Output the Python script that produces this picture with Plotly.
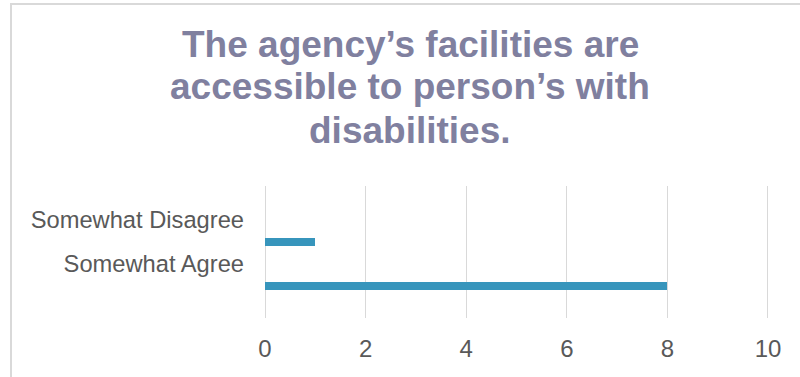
import plotly.graph_objects as go

# Survey responses (count of respondents)
categories = ["Somewhat Agree", "Somewhat Disagree"]
counts = [8, 1]
x_ticks = [0, 2, 4, 6, 8, 10]
title_lines = [
    "The agency’s facilities are",
    "accessible to person’s with",
    "disabilities.",
]

W, H = 800, 377
M_L, M_R, M_T, M_B = 265, 31, 186, 59
PLOT_H = H - M_T - M_B
PLOT_W = W - M_L - M_R

FONT = "Liberation Sans, Arial, sans-serif"
TITLE_COLOR = "#80809F"
TEXT_COLOR = "#595959"
GRID_COLOR = "#D9D9D9"
BAR_COLOR = "#3795BC"


def py(px):
    """Pixel row from the top of the page -> paper y."""
    return 1 + (M_T - px) / PLOT_H


def px_x(px):
    """Pixel column from the left of the page -> paper x."""
    return (px - M_L) / PLOT_W


fig = go.Figure(
    go.Bar(
        x=counts,
        y=categories,
        orientation="h",
        width=0.17,
        offset=-0.596,
        marker=dict(color=BAR_COLOR, line=dict(width=0)),
        hoverinfo="x+y",
    )
)

# Title drawn line by line for tight Excel-like line spacing
line_centers = [45.0, 86.5, 130.0]
for text, yc in zip(title_lines, line_centers):
    fig.add_annotation(
        text=f"<b>{text}</b>",
        xref="paper", yref="paper",
        x=px_x(410), y=py(yc),
        xanchor="center", yanchor="middle",
        showarrow=False,
        font=dict(family=FONT, size=37, color=TITLE_COLOR),
    )

# Chart-area outline (top and left edges visible)
fig.add_shape(
    type="rect",
    xref="paper", yref="paper",
    x0=px_x(11), x1=px_x(W + 20),
    y0=py(H + 20), y1=py(4),
    line=dict(color=GRID_COLOR, width=2),
    fillcolor="rgba(0,0,0,0)",
    layer="below",
)

fig.update_layout(
    width=W, height=H,
    margin=dict(l=M_L, r=M_R, t=M_T, b=M_B, pad=0),
    paper_bgcolor="white",
    plot_bgcolor="white",
    showlegend=False,
    font=dict(family=FONT, color=TEXT_COLOR),
    xaxis=dict(
        # a touch past 10 so the last gridline is kept
        range=[0, 10.02],
        tickvals=x_ticks,
        ticktext=[str(v) for v in x_ticks],
        showgrid=True, gridcolor=GRID_COLOR, gridwidth=1,
        zeroline=True, zerolinecolor=GRID_COLOR, zerolinewidth=1,
        showline=False, ticks="",
        ticklabelstandoff=14,
        tickfont=dict(family=FONT, size=24, color=TEXT_COLOR),
        fixedrange=True,
    ),
    yaxis=dict(
        type="category",
        categoryorder="array",
        categoryarray=categories,
        range=[-1.239, 1.761],
        showgrid=False, zeroline=False, showline=False, ticks="",
        ticklabelstandoff=20,
        tickfont=dict(family=FONT, size=23.7, color=TEXT_COLOR),
        fixedrange=True,
    ),
    bargap=0,
)

fig.write_html("out.html")
